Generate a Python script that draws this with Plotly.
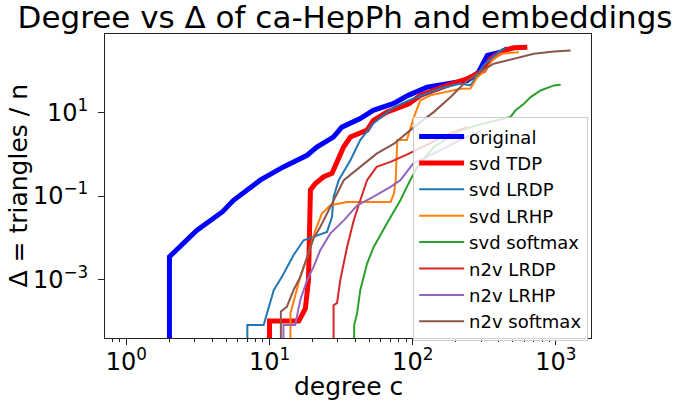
import plotly.graph_objects as go

# ---- data (degree c, Delta = triangles / n); 0 means no triangles ----
series_names = ["original", "svd TDP", "svd LRDP", "svd LRHP", "svd softmax",
                "n2v LRDP", "n2v LRHP", "n2v softmax"]
series_colors = ["#0000ff", "#ff0000", "#1f77b4", "#ff7f0e", "#2ca02c",
                 "#d62728", "#9467bd", "#8c564b"]

original_x = [2, 2, 3.1, 4.7, 5.6, 8.2, 8.6, 12.5, 18.3, 21.4, 27.9, 32, 43, 53, 73, 93, 126, 240, 288, 332, 410, 457]
original_y = [0, 0.0035, 0.015, 0.042, 0.079, 0.20, 0.24, 0.50, 0.95, 1.5, 2.6, 4.5, 7.2, 11.4, 16.4, 26, 41, 59, 93, 235, 282, 340]

svd_tdp_x = [10, 10, 16, 17.8, 18.7, 19.3, 20.9, 23.9, 27.3, 32.9, 36.7, 48, 53, 66, 94, 113, 174, 240, 315, 349, 433, 508, 631]
svd_tdp_y = [0, 0.0001, 0.0001, 0.0002, 0.00095, 0.14, 0.20, 0.29, 0.35, 1.5, 2.6, 3.8, 6.5, 10.3, 16.4, 26, 45, 65, 103, 196, 309, 360, 372]

svd_lrdp_x = [7.0, 7.0, 9.1, 9.6, 10.7, 12.2, 14.7, 17.3, 20.3, 25.2, 27.3, 28, 30.4, 36.7, 43, 53, 74, 94, 156, 216, 253, 312, 410, 445]
svd_lrdp_y = [0, 0.00008, 0.00008, 0.000155, 0.00055, 0.00115, 0.0038, 0.0087, 0.0105, 0.0138, 0.0316, 0.095, 0.24, 0.72, 2.2, 5.5, 13.6, 19.7, 38, 50, 45, 136, 309, 350]

svd_lrhp_x = [14, 14, 16.4, 18.7, 20.9, 23.2, 26.6, 34.8, 70, 74, 76, 78, 91, 102, 113, 133, 216, 253, 282, 322, 359, 410, 551]
svd_lrhp_y = [0, 0.000155, 0.00115, 0.0042, 0.015, 0.038, 0.060, 0.072, 0.072, 0.115, 0.24, 2.2, 2.2, 7.9, 19.7, 26, 37.6, 38, 71, 103, 179, 259, 282]

svd_softmax_x = [39, 39, 40.9, 43, 48, 53.4, 66, 82, 96, 108, 140, 216, 314, 482, 523, 598, 666, 782, 969, 1079]
svd_softmax_y = [0, 0.00008, 0.000155, 0.00055, 0.0024, 0.0060, 0.022, 0.079, 0.24, 0.50, 1.5, 3.8, 5.5, 7.9, 11.4, 16.4, 23.7, 34, 45, 47]

n2v_lrdp_x = [28, 28, 29.6, 31.2, 34.8, 38.7, 43, 48, 56, 70, 94, 133, 190, 240]
n2v_lrdp_y = [0, 0.00024, 0.00027, 0.00096, 0.0060, 0.026, 0.079, 0.24, 0.50, 0.66, 1.04, 1.84, 3.4, 4.5]

n2v_lrhp_x = [12.5, 12.5, 15.1, 16.4, 18.3, 20.3, 22.6, 26.6, 33, 41, 53, 70, 82, 101, 155, 230, 300]
n2v_lrhp_y = [0, 0.00008, 0.00008, 0.00032, 0.00096, 0.0020, 0.0050, 0.0127, 0.026, 0.060, 0.095, 0.166, 0.24, 0.61, 1.25, 2.5, 3.6]

n2v_softmax_x = [12, 12, 13.2, 14.7, 16.4, 18.3, 20.3, 22.6, 26.6, 29.6, 33, 43, 56, 74, 102, 140, 184, 228, 282, 368, 508, 701, 969, 1268]
n2v_softmax_y = [0, 0.00017, 0.00022, 0.00055, 0.00115, 0.0035, 0.0096, 0.018, 0.055, 0.115, 0.24, 0.50, 1.04, 1.8, 4.5, 10.3, 23.7, 50, 86, 149, 197, 259, 294, 309]

series_x = [original_x, svd_tdp_x, svd_lrdp_x, svd_lrhp_x, svd_softmax_x,
            n2v_lrdp_x, n2v_lrhp_x, n2v_softmax_x]
series_y = [original_y, svd_tdp_y, svd_lrdp_y, svd_lrhp_y, svd_softmax_y,
            n2v_lrdp_y, n2v_lrhp_y, n2v_softmax_y]
series_widths = [5, 5, 2, 2, 2, 2, 2, 2]

x_tickvals = [1, 10, 100, 1000]
x_ticktext = ["10<sup>0</sup>", "10<sup>1</sup>", "10<sup>2</sup>", "10<sup>3</sup>"]
x_minor_decades = [0.1, 1, 10, 100, 1000]
x_minor_steps = [2, 3, 4, 5, 6, 7, 8, 9]
y_tickvals = [1e-3, 1e-1, 10]
y_ticktext = ["10<sup>\u22123</sup>", "10<sup>\u22121</sup>", "10<sup>1</sup>"]

FLOOR = 1e-6  # zero values drop below the visible log range

FONT = "DejaVu Sans"
fig = go.Figure()
for name, color, xs, ys, w in zip(series_names, series_colors, series_x, series_y, series_widths):
    fig.add_trace(go.Scatter(
        x=xs, y=[v if v > 0 else FLOOR for v in ys], mode="lines", name=name,
        line=dict(color=color, width=w),
    ))

axis_common = dict(
    type="log", showgrid=False, zeroline=False, showline=True, mirror=True, automargin=False,
    linecolor="#222", linewidth=1, ticks="outside", ticklen=6, tickcolor="#222",
    tickfont=dict(family=FONT, size=24, color="#000"),
)
fig.update_xaxes(**axis_common, range=[-0.149, 3.245], tickvals=x_tickvals, ticktext=x_ticktext,
                 ticklabelstandoff=-4,
                 minor=dict(ticks="outside", ticklen=3, tickcolor="#222", showgrid=False,
                            tickvals=[d * k for d in x_minor_decades for k in x_minor_steps]))
fig.update_yaxes(**axis_common, range=[-4.406, 2.887], tickvals=y_tickvals, ticktext=y_ticktext,
                 ticklabelstandoff=5)

fig.add_annotation(text="degree c", xref="paper", yref="paper", x=0.5, y=-0.16,
                   xanchor="center", yanchor="middle", showarrow=False,
                   font=dict(family=FONT, size=25, color="#000"))
fig.add_annotation(text="\u0394 = triangles / n", xref="paper", yref="paper", x=-0.18, y=0.5,
                   xanchor="center", yanchor="middle", showarrow=False, textangle=-90,
                   font=dict(family=FONT, size=25, color="#000"))

fig.update_layout(
    width=677, height=408,
    margin=dict(l=105, r=86, t=34, b=70),
    paper_bgcolor="white", plot_bgcolor="white",
    title=dict(text="Degree vs \u0394 of ca-HepPh and embeddings", x=345 / 677, xref="container",
               xanchor="center", y=0.958, yanchor="middle",
               font=dict(family=FONT, size=31, color="#000")),
    legend=dict(x=0.634, y=0.726, xanchor="left", yanchor="top",
                bgcolor="rgba(255,255,255,0.8)", bordercolor="#cccccc", borderwidth=1,
                font=dict(family=FONT, size=18, color="#000"), tracegroupgap=0, itemwidth=45),
    showlegend=True,
)

fig.write_html("out.html", config={"displayModeBar": False},
               post_script="document.body.style.margin='0';")
